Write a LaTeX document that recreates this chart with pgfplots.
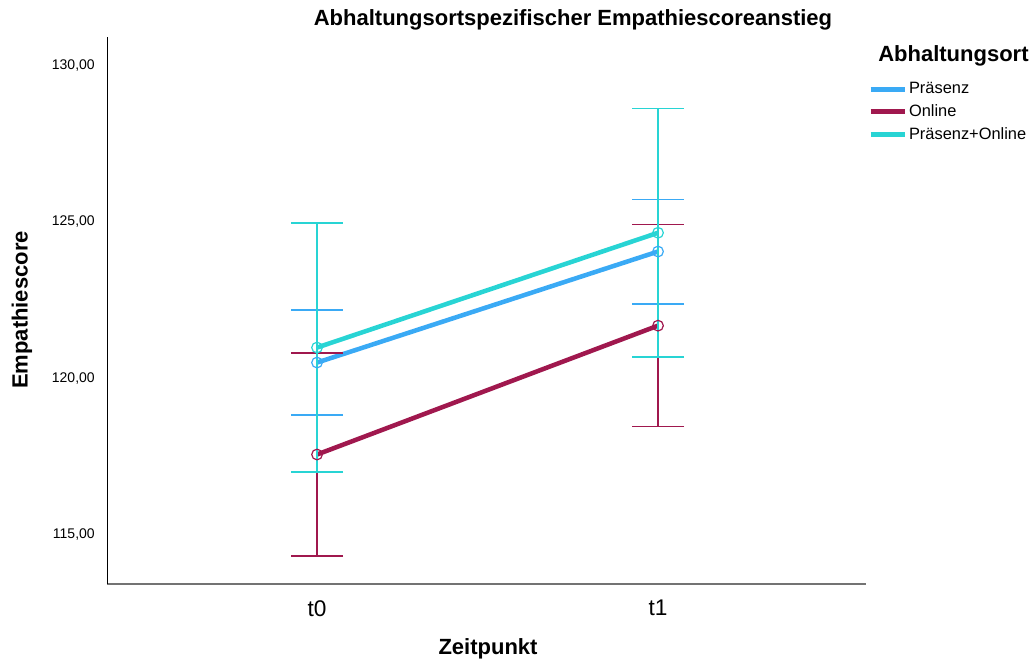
\documentclass[border=0pt]{standalone}
\usepackage{fontspec}
\setmainfont{Liberation Sans}
\usepackage{pgfplots}
\pgfplotsset{compat=1.18}
\definecolor{praes}{RGB}{58,170,245}
\definecolor{onl}{RGB}{160,24,78}
\definecolor{po}{RGB}{40,212,212}
\pgfplotsset{myerr/.style={error bars/.cd, y dir=both, y explicit,
  error bar style={line width=1.1pt},
  error mark options={rotate=90, mark size=19.5pt, line width=1.2pt}}}
\begin{document}
\begin{tikzpicture}
\path (0pt,0pt) rectangle (774pt,495.75pt);
\begin{axis}[
  at={(80.25pt,57.75pt)}, anchor=south west,
  scale only axis, width=569.25pt, height=410.25pt,
  xmin=-0.616, xmax=1.610, ymin=113.37, ymax=130.86,
  axis x line*=bottom, axis y line*=left,
  x axis line style={-, draw=black!55, line width=1.4pt},
  y axis line style={-, draw=black, line width=0.75pt},
  xtick={0,1}, xticklabels={t0,t1},
  ytick={115,120,125,130},
  yticklabels={{115,00},{120,00},{125,00},{130,00}},
  major tick length=0pt,
  yticklabel style={inner sep=0pt, xshift=-9pt, yshift=-1.2pt, font=\fontsize{10.5}{12}\selectfont},
  xticklabel style={inner sep=0pt, yshift=-12pt, font=\fontsize{17}{19}\selectfont},
  clip=false,
  legend style={at={(1.0026,0.92)}, anchor=north west, draw=none, fill=none,
    font=\fontsize{12.3}{14}\selectfont, row sep=4.2pt, inner sep=0pt,
    nodes={inner sep=1.2pt}},
  legend cell align=left,
  legend image code/.code={\draw[#1, line width=3.4pt, mark=none] (0pt,0pt) -- (26pt,0pt);},
]
\addplot[praes, line width=3.4pt, mark=o, mark size=4pt, mark options={line width=0.9pt, fill=none}, myerr]
  coordinates {(0,120.45) +- (0,1.68) (1,124.00) +- (0,1.67)};
\addlegendentry{Präsenz}
\addplot[onl, line width=3.4pt, mark=o, mark size=4pt, mark options={line width=0.9pt, fill=none}, myerr]
  coordinates {(0,117.51) +- (0,3.25) (1,121.63) +- (0,3.23)};
\addlegendentry{Online}
\addplot[po, line width=3.4pt, mark=o, mark size=4pt, mark options={line width=0.9pt, fill=none}, myerr]
  coordinates {(0,120.93) +- (0,3.98) (1,124.60) +- (0,3.97)};
\addlegendentry{Präsenz+Online}
\end{axis}
\node[font=\bfseries\fontsize{16.5}{18}\selectfont] at (429.75pt,480.5pt) {Abhaltungsortspezifischer Empathiescoreanstieg};
\node[font=\bfseries\fontsize{16.5}{18}\selectfont, rotate=90] at (16.5pt,263.25pt) {Empathiescore};
\node[font=\bfseries\fontsize{16.5}{18}\selectfont] at (366pt,9pt) {Zeitpunkt};
\node[font=\bfseries\fontsize{16.5}{18}\selectfont, anchor=west, inner sep=0pt] at (658.5pt,453.75pt) {Abhaltungsort};
\end{tikzpicture}
\end{document}
